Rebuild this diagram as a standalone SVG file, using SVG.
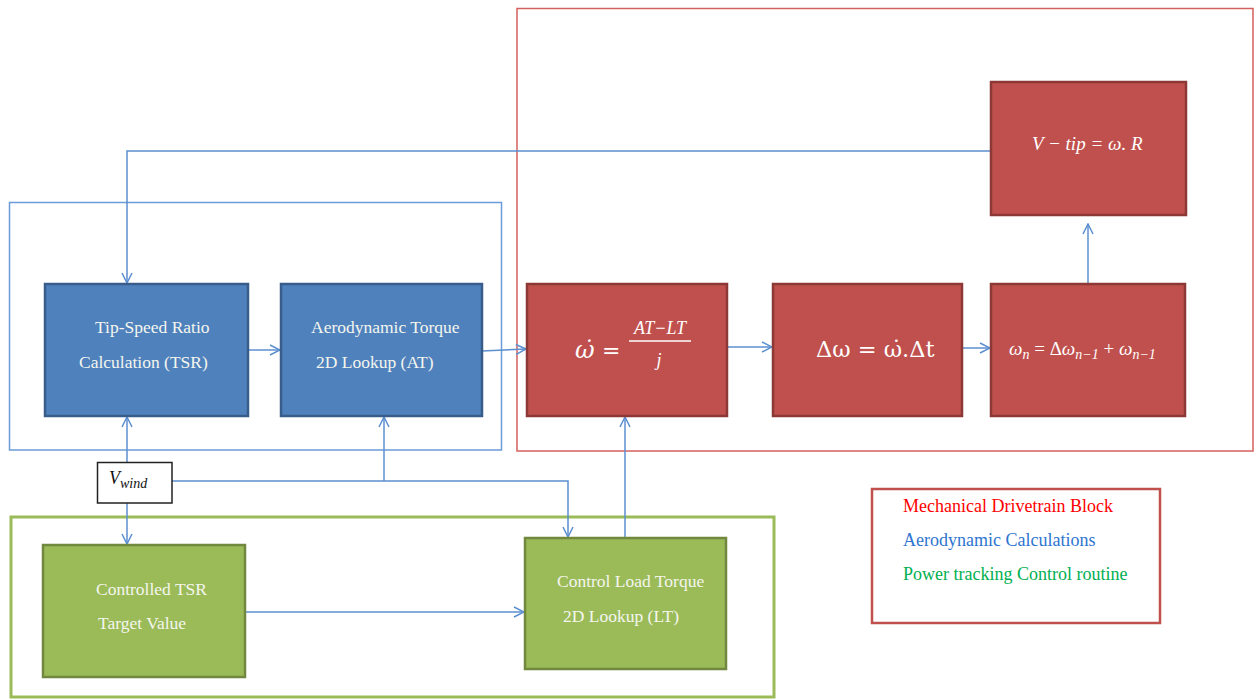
<svg xmlns="http://www.w3.org/2000/svg" width="1257" height="699" viewBox="0 0 1257 699">
<defs>
<marker id="arr" viewBox="0 0 12 12" refX="11" refY="6" markerWidth="12" markerHeight="12" markerUnits="userSpaceOnUse" orient="auto">
<path d="M1,1 L11,6 L1,11" fill="none" stroke="#5b8fd0" stroke-width="1.5"/>
</marker>
</defs>
<style>
.c{fill:none;stroke:#5b8fd0;stroke-width:1.5}
.blue{fill:#4f81bd;stroke:#385d8a;stroke-width:2.5}
.red{fill:#c0504d;stroke:#8c3836;stroke-width:2.5}
.green{fill:#9bbb59;stroke:#71893f;stroke-width:2.5}
.t{font-family:"Liberation Serif","Times New Roman",serif;font-size:17.5px;fill:#f4f6ee}
.m{font-family:"Liberation Serif","Times New Roman",serif;font-style:italic;fill:#ffffff}
.d{font-family:"DejaVu Serif",serif;font-style:italic;fill:#ffffff}
.lg{font-family:"Liberation Serif","Times New Roman",serif;font-size:18px}
</style>
<rect width="1257" height="699" fill="#ffffff"/>
<g id="containers">
<rect id="mech-container" x="517" y="8.5" width="736" height="442.5" fill="none" stroke="#d4605e" stroke-width="1.5"/>
<rect id="aero-container" x="9.5" y="202.5" width="492" height="247.5" fill="none" stroke="#6b9bd8" stroke-width="1.5"/>
<rect id="ctrl-container" x="11" y="517" width="763" height="180" fill="none" stroke="#9bbb59" stroke-width="3"/>
</g>
<g id="connectors">
<polyline class="c" points="991,151 127,151 127,283" marker-end="url(#arr)"/>
<line class="c" x1="248" y1="350" x2="280" y2="350" marker-end="url(#arr)"/>
<line class="c" x1="482" y1="351" x2="526" y2="349" marker-end="url(#arr)"/>
<line class="c" x1="727" y1="347" x2="772" y2="347" marker-end="url(#arr)"/>
<line class="c" x1="962" y1="348" x2="990" y2="348" marker-end="url(#arr)"/>
<line class="c" x1="1088" y1="284" x2="1088" y2="224" marker-end="url(#arr)"/>
<line class="c" x1="127" y1="462" x2="127" y2="417" marker-end="url(#arr)"/>
<line class="c" x1="127" y1="503" x2="127" y2="544" marker-end="url(#arr)"/>
<polyline class="c" points="172,481 568,481 568,537" marker-end="url(#arr)"/>
<line class="c" x1="384" y1="481" x2="384" y2="417" marker-end="url(#arr)"/>
<line class="c" x1="625" y1="538" x2="625" y2="417" marker-end="url(#arr)"/>
<line class="c" x1="245" y1="612" x2="524" y2="612" marker-end="url(#arr)"/>
</g>
<g id="tsr">
<rect class="blue" x="45" y="284" width="203" height="132"/>
<text class="t" x="95" y="333">Tip-Speed Ratio</text>
<text class="t" x="79" y="368">Calculation (TSR)</text>
</g>
<g id="at">
<rect class="blue" x="281" y="284" width="201" height="132"/>
<text class="t" x="311" y="333">Aerodynamic Torque</text>
<text class="t" x="316" y="368">2D Lookup (AT)</text>
</g>
<g id="omegadot">
<rect class="red" x="527" y="284" width="200" height="132"/>
<text class="d" x="575" y="358" font-size="24">ω̇</text>
<text x="602" y="358" font-family="'DejaVu Serif',serif" font-size="22" fill="#ffffff">=</text>
<text class="m" x="660" y="334" font-size="18" text-anchor="middle">AT−LT</text>
<line x1="629" y1="341" x2="691" y2="341" stroke="#ffffff" stroke-width="1.5"/>
<text class="m" x="659" y="366" font-size="18" text-anchor="middle">j</text>
</g>
<g id="domega">
<rect class="red" x="773" y="284" width="189" height="132"/>
<text x="816" y="357" font-family="'DejaVu Serif',serif" font-size="22.5" fill="#ffffff">Δω = ω̇.Δt</text>
</g>
<g id="omegan">
<rect class="red" x="991" y="284" width="194" height="132"/>
<text class="m" x="1009" y="355" font-size="19">ω<tspan font-size="14" dy="4">n</tspan><tspan dy="-4" font-style="normal"> = Δ</tspan>ω<tspan font-size="14" dy="4">n−1</tspan><tspan dy="-4" font-style="normal"> + </tspan>ω<tspan font-size="14" dy="4">n−1</tspan></text>
</g>
<g id="vtip">
<rect class="red" x="991" y="82" width="195" height="133"/>
<text class="m" x="1032" y="150" font-size="19">V − tip = ω. R</text>
</g>
<g id="ctsr">
<rect class="green" x="43" y="545" width="202" height="132"/>
<text class="t" x="96" y="595">Controlled TSR</text>
<text class="t" x="98" y="629">Target Value</text>
</g>
<g id="clt">
<rect class="green" x="525" y="538" width="201" height="131"/>
<text class="t" x="557" y="587">Control Load Torque</text>
<text class="t" x="563" y="622">2D Lookup (LT)</text>
</g>
<g id="vwind">
<rect x="97.5" y="462.5" width="74.5" height="40.5" fill="#ffffff" stroke="#222222" stroke-width="1.5"/>
<text class="m" x="109" y="484" font-size="18" style="fill:#111111">V<tspan font-size="14" dy="4">wind</tspan></text>
</g>
<g id="legend">
<rect x="872" y="489" width="288" height="134" fill="#ffffff" stroke="#c0504d" stroke-width="2.5"/>
<text class="lg" x="903" y="512" fill="#ff0000">Mechanical Drivetrain Block</text>
<text class="lg" x="903" y="546" fill="#2e75d0">Aerodynamic Calculations</text>
<text class="lg" x="903" y="580" fill="#00b050">Power tracking Control routine</text>
</g>
</svg>
